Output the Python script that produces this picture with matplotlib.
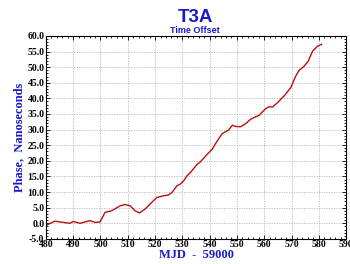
import numpy as np
import matplotlib
matplotlib.use('Agg')
import matplotlib.pyplot as plt
from matplotlib.ticker import MultipleLocator

# MJD - 59000 and phase offset (ns)
mjd = [480.0, 483.3, 485.5, 488.8, 490.0, 492.5, 496.2, 498.0, 499.8,
       501.7, 504.1, 507.2, 509.0, 510.9, 512.7, 514.3, 516.4, 518.8,
       520.7, 523.1, 525.0, 526.2, 528.0, 529.3, 530.5, 531.7, 533.0,
       535.4, 536.4, 539.1, 540.9, 542.8, 544.6, 547.0, 548.3, 549.5,
       551.3, 553.2, 555.0, 558.1, 560.5, 561.7, 563.0, 564.8, 567.2,
       569.7, 571.5, 572.8, 574.6, 576.1, 577.7, 579.5, 581.0]
phase = [-0.7, 0.7, 0.4, 0.0, 0.6, 0.0, 0.85, 0.3, 0.4,
         3.5, 4.0, 5.6, 6.0, 5.6, 4.0, 3.3, 4.6, 6.7,
         8.3, 8.8, 9.1, 9.9, 12.0, 12.6, 13.6, 15.2, 16.3,
         18.9, 19.5, 22.1, 23.7, 26.4, 28.7, 29.9, 31.4, 31.0,
         30.9, 31.9, 33.3, 34.6, 36.7, 37.3, 37.2, 38.6, 40.7,
         43.4, 47.1, 49.0, 50.3, 51.9, 55.1, 56.7, 57.3]

blue = '#1a1acc'
serif = 'Liberation Serif'

fig = plt.figure(figsize=(3.5, 2.64), dpi=100)
ax = fig.add_axes([0.131, 0.095, 0.858, 0.769])

ax.plot(mjd, phase, color='#b81010', lw=1.0)

ax.set_xlim(480, 590)
ax.set_ylim(-5, 60)
ax.xaxis.set_major_locator(MultipleLocator(10))
ax.xaxis.set_minor_locator(MultipleLocator(2))
ax.yaxis.set_major_locator(MultipleLocator(5))
ax.yaxis.set_minor_locator(MultipleLocator(1))
ax.set_yticklabels([f'{v:.1f}' for v in ax.get_yticks()])

ax.grid(True, which='major', color='#b8b8b8', ls=(0, (1.5, 1.5)), lw=0.6)
ax.tick_params(which='both', direction='in', top=True, right=True, width=0.6)
ax.tick_params(which='major', length=3, pad=1)
ax.tick_params(which='minor', length=1.5)
for lab in ax.get_xticklabels() + ax.get_yticklabels():
    lab.set_fontfamily(serif)
    lab.set_fontweight('bold')
    lab.set_fontsize(7)
for sp in ax.spines.values():
    sp.set_linewidth(0.8)

ax.set_xlabel('MJD  -  59000', color=blue, fontfamily=serif,
              fontweight='bold', fontsize=9, labelpad=0)
ax.set_ylabel('Phase,  Nanoseconds', color=blue, fontfamily=serif,
              fontweight='bold', fontsize=9, labelpad=2)

fig.text(0.557, 0.933, 'T3A', color=blue, fontfamily='Liberation Sans',
         fontweight='bold', fontsize=13.5, ha='center', va='center')
fig.text(0.557, 0.886, 'Time Offset', color=blue, fontfamily='Liberation Sans',
         fontweight='bold', fontsize=6.5, ha='center', va='center')

plt.savefig('out.png', dpi=100)
